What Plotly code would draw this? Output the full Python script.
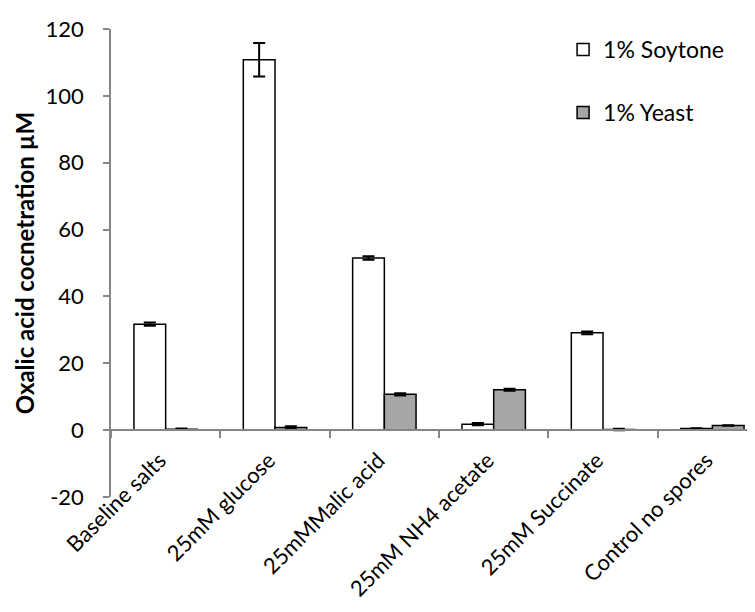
import plotly.graph_objects as go

categories = ["Baseline salts", "25mM glucose", "25mMMalic acid",
              "25mM NH4 acetate", "25mM Succinate", "Control no spores"]
soytone = [31.7, 110.8, 51.5, 1.8, 29.1, 0.5]
soytone_err = [0.5, 5.0, 0.5, 0.3, 0.4, 0.1]
yeast = [0.3, 0.8, 10.7, 12.1, 0.2, 1.4]
yeast_err = [0.2, 0.4, 0.3, 0.3, 0.2, 0.1]
y_ticks = [-20, 0, 20, 40, 60, 80, 100, 120]
y_tick_labels = ["-20", "0", "20", "40", "60", "80", "100", "120"]

FONT = "Lato, Carlito, Calibri, sans-serif"
FS = 22
AXIS = "#868686"

fig = go.Figure()
fig.add_trace(go.Bar(
    x=categories, y=soytone, name="1% Soytone", legendgroup="a",
    marker=dict(color="white", line=dict(color="black", width=1.5)),
    error_y=dict(type="data", array=soytone_err, color="black", thickness=2, width=6),
))
fig.add_trace(go.Bar(
    x=categories, y=yeast, name="1% Yeast", legendgroup="b",
    marker=dict(color="#A6A6A6", line=dict(color="black", width=1.5)),
    error_y=dict(type="data", array=yeast_err, color="black", thickness=2, width=6),
))

ymin, ymax = y_ticks[0], y_ticks[-1]
fig.update_layout(
    width=747, height=604,
    margin=dict(l=103, r=0, t=21, b=115, autoexpand=False),
    paper_bgcolor="white", plot_bgcolor="white",
    font=dict(family=FONT, size=FS, color="black"),
    barmode="group", bargap=0.42, bargroupgap=0,
    showlegend=True,
    legend=dict(x=0.702, y=1.002, xanchor="left", yanchor="top",
                tracegroupgap=30, font=dict(size=FS + 1, family=FONT),
                bgcolor="rgba(0,0,0,0)"),
    xaxis=dict(
        type="category", range=[-0.5, 5.39], automargin=False,
        anchor="free", position=(0 - ymin) / (ymax - ymin),
        showline=True, linecolor=AXIS, linewidth=1.5,
        ticks="outside", tickson="boundaries", ticklen=7, tickcolor=AXIS, tickwidth=1.5,
        tickangle=-45, tickfont=dict(size=FS, family=FONT),
        ticklabelstandoff=8, ticklabelshift=-6,
        showgrid=False, zeroline=False,
    ),
    yaxis=dict(
        range=[ymin, ymax], tickvals=y_ticks, ticktext=y_tick_labels, automargin=False,
        showline=True, linecolor=AXIS, linewidth=1.5,
        ticks="outside", ticklen=6, tickcolor=AXIS, tickwidth=1.5,
        ticklabelstandoff=15,
        showgrid=False, zeroline=False,
        tickfont=dict(size=FS, family=FONT),
        title=dict(text="<b>Oxalic acid cocnetration µM</b>", standoff=4,
                   font=dict(size=24, family=FONT)),
    ),
)

fig.write_html("out.html")
